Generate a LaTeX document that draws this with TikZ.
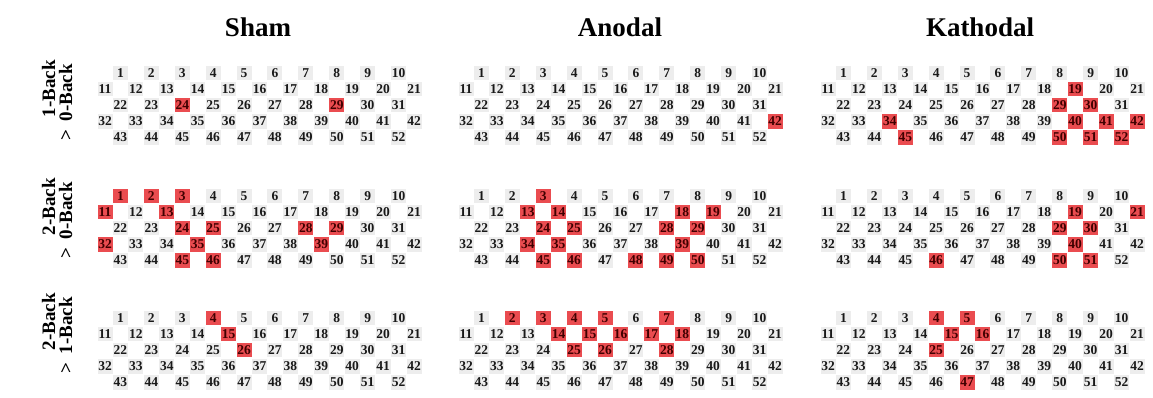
\documentclass[tikz,border=0pt]{standalone}
\usepackage{fontspec}
\setmainfont{Liberation Serif}

\definecolor{cellgray}{RGB}{237,237,237}
\definecolor{cellred}{RGB}{234,76,80}
\definecolor{ink}{RGB}{25,25,25}

\tikzset{
  chan/.style={fill=cellgray, minimum width=15pt, minimum height=14.5pt, inner sep=0pt,
    text=ink, font=\fontsize{13.5}{14}\selectfont\bfseries},
  hotcell/.style={chan, fill=cellred, text=black!75!red},
  coltitle/.style={font=\fontsize{27}{30}\selectfont\bfseries, inner sep=0pt},
  rowlabel/.style={font=\fontsize{19}{21}\selectfont\bfseries, rotate=90, anchor=base east, inner sep=0pt}
}

% mark the significant channels of one panel
\newcommand\markhot[2]{\foreach \k in {#2}{\expandafter\xdef\csname hot-#1-\k\endcsname{}}}

% 52-channel layout: #1 panel id, #2 x of first column, #3 y of first row
\newcommand\chanpanel[3]{%
  \foreach \first/\last/\off/\r in {1/10/1/0,11/21/0/1,22/31/1/2,32/42/0/3,43/52/1/4}{
    \foreach \n in {\first,...,\last}{
      \pgfmathsetmacro\cx{#2+(2*(\n-\first)+\off)*15.45}
      \pgfmathsetmacro\cy{#3+\r*16.1}
      \ifcsname hot-#1-\n\endcsname\def\cellstyle{hotcell}\else\def\cellstyle{chan}\fi
      \node[\cellstyle] (#1-\n) at (\cx,\cy) {\n};
    }
  }%
}

\markhot{sa}{24,29}
\markhot{sb}{42}
\markhot{sc}{19,29,30,34,40,41,42,45,50,51,52}
\markhot{ma}{1,2,3,11,13,24,25,28,29,32,35,39,45,46}
\markhot{mb}{3,13,14,18,19,24,25,28,29,34,35,39,45,46,48,49,50}
\markhot{mc}{19,21,29,30,40,46,50,51}
\markhot{ta}{4,15,26}
\markhot{tb}{2,3,4,5,7,14,15,16,17,18,25,26,28}
\markhot{tc}{4,5,15,16,25,47}

\newcommand\gt{{>}\hspace{8pt}}

\begin{document}
\begin{tikzpicture}[x=1pt,y=-1pt]
  \useasboundingbox[fill=white] (0,0) rectangle (1153,397);

  % column titles
  \node[coltitle] (title-sham) at (258,27) {Sham};
  \node[coltitle] (title-anodal) at (620,27) {Anodal};
  \node[coltitle] (title-kathodal) at (980,27) {Kathodal};

  % row labels (contrasts)
  \node[rowlabel] (lab1a) at (55,60) {1-Back};
  \node[rowlabel] (lab1b) at (72,64) {\gt 0-Back};
  \node[rowlabel] (lab2a) at (55,178) {2-Back};
  \node[rowlabel] (lab2b) at (72,182) {\gt 0-Back};
  \node[rowlabel] (lab3a) at (55,293) {2-Back};
  \node[rowlabel] (lab3b) at (72,297) {\gt 1-Back};

  % channel maps
  \chanpanel{sa}{105}{73}
  \chanpanel{sb}{466}{73}
  \chanpanel{sc}{828}{73}
  \chanpanel{ma}{105}{196}
  \chanpanel{mb}{466}{196}
  \chanpanel{mc}{828}{196}
  \chanpanel{ta}{105}{318}
  \chanpanel{tb}{466}{318}
  \chanpanel{tc}{828}{318}
\end{tikzpicture}
\end{document}
